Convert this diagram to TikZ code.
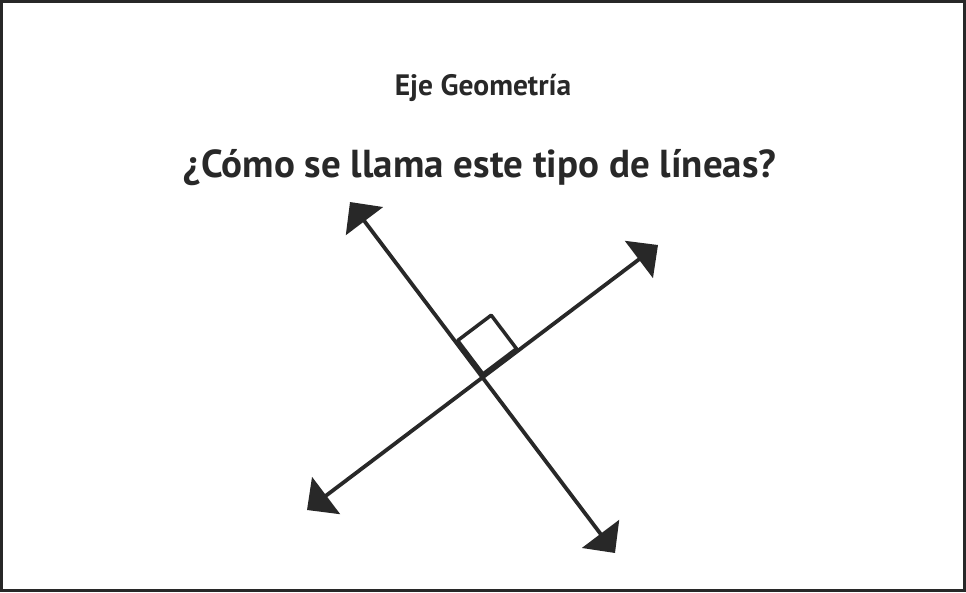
\documentclass[tikz,border=0pt]{standalone}
\usepackage{fontspec}
\setmainfont{PT Sans}
\usetikzlibrary{arrows.meta}
\definecolor{inkgray}{RGB}{40,40,40}
\tikzset{
    rayline/.style={inkgray, line width=3.8pt, {Triangle[length=24pt,width=46pt]}-{Triangle[length=24pt,width=46pt]}},
    anglebox/.style={inkgray, line width=3.5pt, line join=round},
    heading/.style={inkgray, font=\bfseries\fontsize{29.5}{34}\selectfont, anchor=base},
    question/.style={inkgray, font=\bfseries\fontsize{39}{46}\selectfont, anchor=base}
}
\begin{document}
\begin{tikzpicture}[x=1pt, y=-1pt]
        \useasboundingbox (0,0) rectangle (966,592);
        \draw[inkgray, line width=3pt] (1.5,1.5) rectangle (964.5,590.5);

        \node[heading] (eje) at (483,95) {Eje Geometría};
        \node[question] (pregunta) at (480,177) {¿Cómo se llama este tipo de líneas?};

        \coordinate (nw) at (350,202);
        \coordinate (se) at (615,553);
        \coordinate (sw) at (307,510);
        \coordinate (ne) at (658,245);
        \coordinate (o) at (482.5,377.5);

        \draw[rayline] (nw) -- (se);
        \draw[rayline] (sw) -- (ne);

        % square sits a little off the lines, so its sides look heavier there
        \coordinate (o2) at (483,374);
        \coordinate (a) at (457.7,340.5);
        \coordinate (b) at (516.5,348.7);
        \coordinate (c) at (491.2,315.2);
        \draw[anglebox] (o2) -- (a) -- (c) -- (b) -- cycle;
    \end{tikzpicture}
\end{document}
